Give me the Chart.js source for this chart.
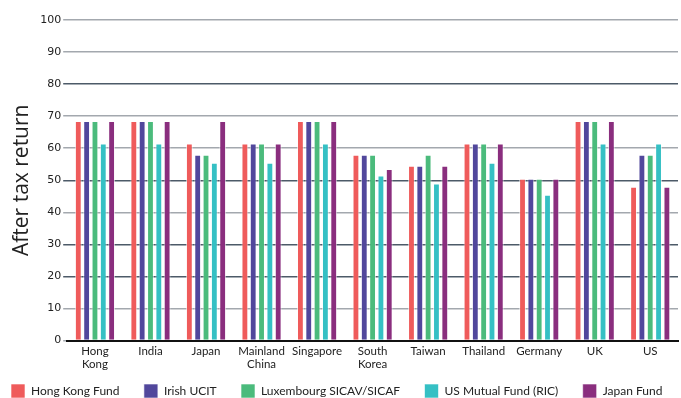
<!DOCTYPE html>
<html>
<head>
<meta charset="utf-8">
<script src="https://cdn.jsdelivr.net/npm/chart.js@4"></script>
<style>
  html, body { margin: 0; padding: 0; background: #fff; overflow: hidden; }
  #wrap { width: 681px; height: 408px; }
</style>
</head>
<body>
<div id="wrap"><canvas id="chart"></canvas></div>
<script>
const countries = [['Hong', 'Kong'], 'India', 'Japan', ['Mainland', 'China'], 'Singapore',
    ['South', 'Korea'], 'Taiwan', 'Thailand', 'Germany', 'UK', 'US'];

const hongKongFund = [68.5, 68.5, 61.5, 61.5, 68.5, 58, 54.5, 61.5, 50.5, 68.5, 48];
const irishUcit = [68.5, 68.5, 58, 61.5, 68.5, 58, 54.5, 61.5, 50.5, 68.5, 58];
const luxembourgSicav = [68.5, 68.5, 58, 61.5, 68.5, 58, 58, 61.5, 50.5, 68.5, 58];
const usMutualFund = [61.5, 61.5, 55.5, 55.5, 61.5, 51.5, 49, 55.5, 45.5, 61.5, 61.5];
const japanFund = [68.5, 68.5, 68.5, 61.5, 68.5, 53.5, 54.5, 61.5, 50.5, 68.5, 48];

const yTicks = [0, 10, 20, 30, 40, 50, 60, 70, 80, 90, 100];

// gridlines in the original alternate between light grey and slate
const darkLines = [80, 50, 30, 20];

function makeSet(label, data, color) {
    return {
        label: label,
        data: data,
        backgroundColor: color,
        borderColor: 'rgba(255,255,255,0.6)',
        borderWidth: 1,
        borderSkipped: 'bottom'
    };
}

new Chart(document.getElementById('chart'), {
    type: 'bar',
    data: {
        labels: countries,
        datasets: [
            makeSet('Hong Kong Fund', hongKongFund, '#ef5b5b'),
            makeSet('Irish UCIT', irishUcit, '#51479c'),
            makeSet('Luxembourg SICAV/SICAF', luxembourgSicav, '#4bbb7c'),
            makeSet('US Mutual Fund (RIC)', usMutualFund, '#35c0c4'),
            makeSet('Japan Fund', japanFund, '#8a2e7e')
        ]
    },
    options: {
        responsive: true,
        maintainAspectRatio: false,
        animation: false,
        categoryPercentage: 0.75,
        barPercentage: 0.82,
        layout: { padding: { left: 2, right: 3, top: 20, bottom: 0 } },
        plugins: {
            tooltip: { enabled: false },
            legend: {
                position: 'bottom',
                align: 'start',
                labels: {
                    boxWidth: 14,
                    boxHeight: 14,
                    padding: 9,
                    color: '#222',
                    font: { family: 'Lato', size: 12 },
                    // small padding keeps the legend close to the axis, spaces widen the gaps
                    generateLabels: chart => {
                        const items = Chart.defaults.plugins.legend.labels.generateLabels(chart);
                        items.forEach((item, i) => {
                            if (i < items.length - 1) item.text = item.text + '     ';
                        });
                        return items;
                    }
                }
            }
        },
        scales: {
            x: {
                grid: { display: false, drawTicks: false },
                border: { display: true, color: '#111', width: 2 },
                ticks: {
                    color: '#222',
                    maxRotation: 0,
                    autoSkip: false,
                    padding: 4,
                    font: { family: 'Lato', size: 11.5, lineHeight: 1.15 }
                }
            },
            y: {
                min: 0,
                max: 100,
                afterBuildTicks: axis => { axis.ticks = yTicks.map(v => ({ value: v })); },
                border: { display: false },
                grid: {
                    drawTicks: true,
                    tickLength: 4,
                    lineWidth: 1.5,
                    color: ctx => darkLines.includes(ctx.tick.value) ? '#4d5a68' : '#a3a8ae'
                },
                ticks: {
                    color: '#222',
                    padding: 2,
                    font: { family: 'DejaVu Sans', size: 11 }
                },
                title: {
                    display: true,
                    text: 'After tax return',
                    color: '#222',
                    padding: { top: 7, bottom: 4 },
                    font: { family: 'Open Sans', size: 21, weight: 'normal' }
                }
            }
        }
    }
});
</script>
</body>
</html>
